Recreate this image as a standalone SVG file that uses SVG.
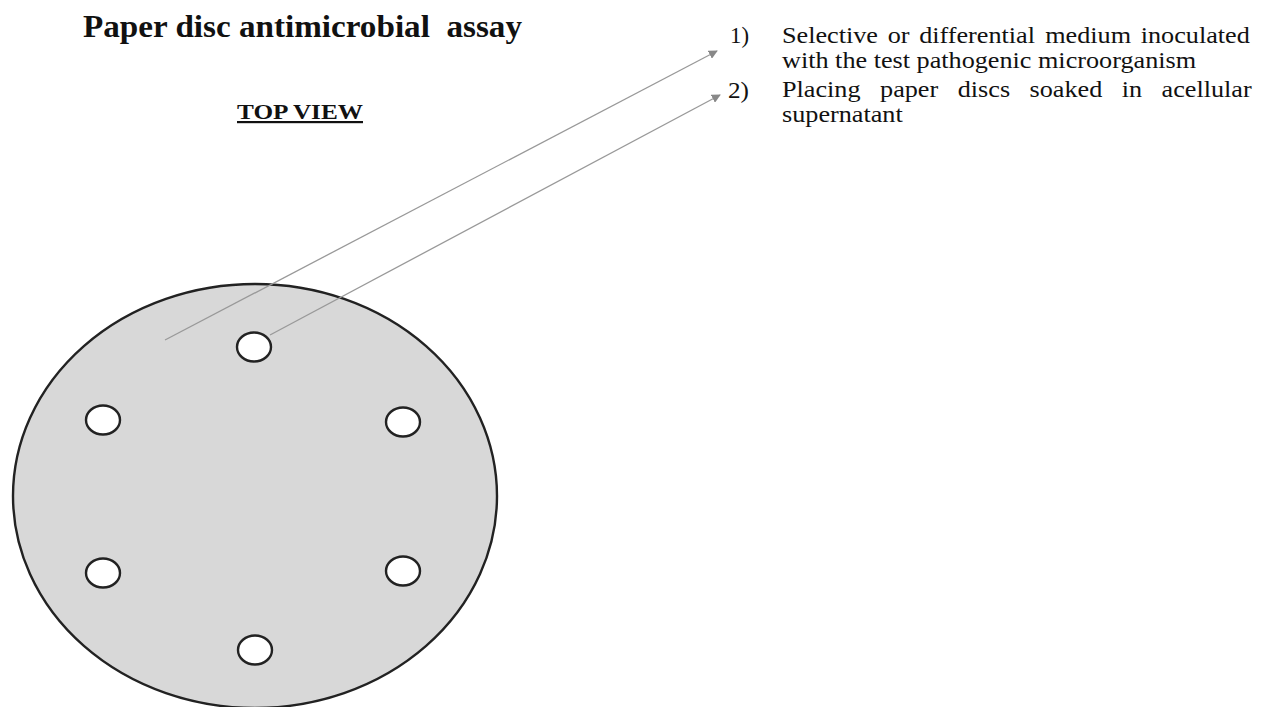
<svg xmlns="http://www.w3.org/2000/svg" width="1271" height="707" viewBox="0 0 1271 707">
<style>
.t{font-family:"Liberation Serif","Times New Roman",serif;fill:#111}
.lg{font-size:24px}
.disc{fill:#fff;stroke:#222;stroke-width:2.4}
.lead{stroke:#999;stroke-width:1.3;fill:none}
</style>
<defs>
<marker id="ah" viewBox="0 0 10 10" refX="9" refY="5" markerWidth="9" markerHeight="9" orient="auto" markerUnits="userSpaceOnUse">
<path d="M0,0 L10,5 L0,10 z" fill="#888"/>
</marker>
</defs>
<rect width="1271" height="707" fill="#fff"/>
<g id="title">
<text class="t" x="83" y="37" font-size="32" font-weight="bold" textLength="439" lengthAdjust="spacingAndGlyphs" xml:space="preserve">Paper disc antimicrobial  assay</text>
<text class="t" x="237" y="119" font-size="22" font-weight="bold" text-decoration="underline" textLength="126" lengthAdjust="spacingAndGlyphs">TOP VIEW</text>
</g>
<g id="plate">
<ellipse cx="255" cy="496" rx="242" ry="212" fill="#d8d8d8" stroke="#222" stroke-width="2.4"/>
</g>
<g id="discs">
<ellipse id="d1" class="disc" cx="254" cy="347" rx="17" ry="14.5"/>
<ellipse id="d2" class="disc" cx="103" cy="420" rx="17" ry="14.5"/>
<ellipse id="d3" class="disc" cx="403" cy="422" rx="17" ry="14.5"/>
<ellipse id="d4" class="disc" cx="103" cy="573" rx="17" ry="14.5"/>
<ellipse id="d5" class="disc" cx="403" cy="571" rx="17" ry="14.5"/>
<ellipse id="d6" class="disc" cx="255" cy="650" rx="17" ry="14.5"/>
</g>
<g id="connectors">
<line class="lead" x1="165" y1="340" x2="717" y2="51" marker-end="url(#ah)"/>
<line class="lead" x1="270" y1="335" x2="720" y2="95" marker-end="url(#ah)"/>
</g>
<g id="legend">
<text class="t lg" x="730" y="43" textLength="19" lengthAdjust="spacingAndGlyphs">1)</text>
<text class="t lg" x="728" y="98" textLength="21" lengthAdjust="spacingAndGlyphs">2)</text>
<g transform="translate(782 0) scale(1.092 1)">
<text class="t lg" y="43"><tspan x="0">Selective</tspan><tspan x="96.8">or</tspan><tspan x="125.6">differential</tspan><tspan x="241">medium</tspan><tspan x="328.5">inoculated</tspan></text>
<text class="t lg" x="0" y="68">with the test pathogenic microorganism</text>
<text class="t lg" y="97"><tspan x="0">Placing</tspan><tspan x="89.8">paper</tspan><tspan x="160.9">discs</tspan><tspan x="226.7">soaked</tspan><tspan x="311.1">in</tspan><tspan x="347.6">acellular</tspan></text>
<text class="t lg" x="0" y="122">supernatant</text>
</g>
</g>
</svg>
